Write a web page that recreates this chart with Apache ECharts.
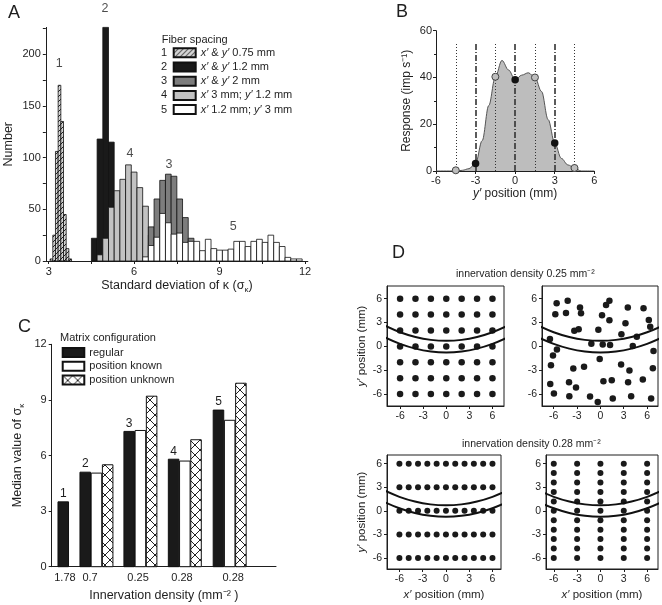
<!DOCTYPE html>
<html>
<head>
<meta charset="utf-8">
<script src="https://cdn.jsdelivr.net/npm/echarts@6/dist/echarts.min.js"></script>
<style>
html, body { margin: 0; padding: 0; background: #fff; }
#main { width: 662px; height: 605px; }
</style>
</head>
<body>
<div id="main"></div>
<script>
// ---- A: histograms of sigma_kappa (bin edges + counts) ----
var binW = 0.2;
var h1Start = 3.05, h1W = 0.094;
var h1Counts = [2, 25, 106, 170, 135, 45, 12, 2];
var h2Start = 4.5;
var h2Counts = [22, 118, 226, 115];
var h4Start = 4.7;
var h4Counts = [6, 22, 52, 68, 79, 93, 86, 71, 53, 25];
var h3Start = 6.5;
var h3Counts = [33, 60, 78, 84, 82, 60, 42, 22];
var h5Start = 6.3;
var h5Counts = [4, 15, 23, 46, 37, 26, 27, 18, 19, 19, 10, 21, 12, 10.5, 10.5, 11.5, 19, 19, 14, 19, 21, 18, 25, 18, 14, 3.5, 2, 2];
var fiberNames = ['x′ & y′ 0.75 mm', 'x′ & y′ 1.2 mm', 'x′ & y′ 2 mm', 'x′ 3 mm; y′ 1.2 mm', 'x′ 1.2 mm; y′ 3 mm'];
var aNotes = [[3.37, 191, '1'], [4.98, 244, '2'], [7.22, 93, '3'], [5.85, 104, '4'], [9.48, 33, '5']];

// ---- B: response profile ----
var bX = [-6, -4.5, -4, -3.5, -3, -2.5, -2, -1.5, -1, -0.5, 0, 0.5, 1, 1.5, 2, 2.5, 3, 3.5, 4, 4.5, 5, 6];
var bY = [0, 0, 0.3, 1, 3.2, 13, 28, 40.3, 47.3, 43.2, 39, 41, 42, 40, 34, 22, 12, 5.4, 2.6, 1.3, 0, 0];
var bFilled = [[-3, 3.2], [0, 39], [3, 12]];
var bOpen = [[-4.5, 0.3], [-1.5, 40.3], [1.5, 40], [4.5, 1.3]];
var bDotted = [-4.5, -1.5, 1.5, 4.5];
var bDashDot = [-3, 0, 3];
var bLineTop = 54.5;

// ---- C: median sigma_kappa ----
var cDensity = ['1.78', '0.7', '0.25', '0.28', '0.28'];
var cLabelPos = [0.59, 1.71, 3.85, 5.81, 8.09];
var cGroupStart = [0.28, 1.26, 3.22, 5.2, 7.2];
var cRegular = [3.5, 5.1, 7.3, 5.8, 8.45];
var cKnown = [null, 5.05, 7.35, 5.7, 7.9];
var cUnknown = [null, 5.5, 9.2, 6.85, 9.9];
var cNumbers = ['1', '2', '3', '4', '5'];
var cBarW = 0.47, cBarStep = 0.5;

// ---- D: fiber positions ----
var d1Cols = [-6, -4, -2, 0, 2, 4, 6];
var d1Rows = [-6, -4, -2, 0, 2, 4, 6];
var d2Points = [[-5.62, 5.43], [-4.2, 5.73], [-2.62, 4.88], [-5.79, 4.04], [-4.42, 4.21], [-2.49, 4.17],
  [0.73, 5.22], [1.16, 5.73], [3.52, 4.88], [5.54, 4.8], [0.21, 3.92], [1.16, 3.28], [3.22, 2.9],
  [6.22, 3.33], [6.4, 2.48], [-3.35, 1.98], [-2.79, 2.15], [-0.26, 2.1], [2.7, 1.52], [4.68, 1.22],
  [-6.48, 0.93], [-1.16, 0.34], [0.3, 0.25], [1.24, 0.17], [4.16, 0.04], [-5.58, -0.38], [6.82, -0.59],
  [-6.09, -1.14], [-0.09, -1.6], [-6.35, -2.36], [-3.48, -2.78], [-2.1, -2.57], [2.66, -2.27],
  [3.73, -3.03], [6.74, -2.74], [-6.44, -4.72], [-4.03, -4.5], [0.39, -4.38], [1.46, -4.25],
  [3.56, -4.5], [5.45, -4.17], [-3.13, -5.18], [-5.97, -5.94], [-3.99, -6.27], [-1.33, -6.32],
  [-0.34, -6.99], [1.59, -6.57], [3.95, -6.27], [6.52, -6.57]];
var d3Cols = [-6, -4.8, -3.6, -2.4, -1.2, 0, 1.2, 2.4, 3.6, 4.8, 6];
var d3Rows = [-6, -3, 0, 3, 6];
var d4Cols = [-6, -3, 0, 3, 6];
var d4Rows = [-6, -4.8, -3.6, -2.4, -1.2, 0, 1.2, 2.4, 3.6, 4.8, 6];
var curveX = [-8, -6, -4, -2, 0, 2, 4, 6, 8];
var curveUpper = [2.62, 1.78, 1.18, 0.82, 0.7, 0.82, 1.18, 1.78, 2.62];
var curveLower = [1.15, 0.32, -0.28, -0.64, -0.76, -0.64, -0.28, 0.32, 1.15];
var dTicks = [-6, -3, 0, 3, 6];

var FONT = 'Liberation Sans';
var INK = '#1e1e1e';

function makePattern(size, bg, lines) {
  var c = document.createElement('canvas');
  c.width = size; c.height = size;
  var g = c.getContext('2d');
  g.fillStyle = bg; g.fillRect(0, 0, size, size);
  g.strokeStyle = '#222'; g.lineWidth = 1;
  g.beginPath();
  lines.forEach(function (l) { g.moveTo(l[0], l[1]); g.lineTo(l[2], l[3]); });
  g.stroke();
  return { image: c, repeat: 'repeat' };
}
var diagFill = makePattern(5, '#d4d4d4', [[0, 5, 5, 0], [-1, 1, 1, -1], [4, 6, 6, 4]]);
var crossFill = makePattern(10, '#ffffff', [[0, 0, 10, 10], [10, 0, 0, 10]]);

function histSeries(name, start, width, counts, fill, z) {
  return {
    name: name, type: 'custom', xAxisIndex: 0, yAxisIndex: 0, z: z,
    itemStyle: { color: fill, borderColor: '#111', borderWidth: 1 },
    encode: { x: [0, 1], y: 2 },
    data: counts.map(function (c, i) { return [start + i * width, start + (i + 1) * width, c]; }),
    renderItem: function (params, api) {
      var a = api.coord([api.value(0), api.value(2)]);
      var b = api.coord([api.value(1), 0]);
      return { type: 'rect', shape: { x: a[0], y: a[1], width: b[0] - a[0], height: b[1] - a[1] },
        style: { fill: fill, stroke: '#111', lineWidth: 0.8 } };
    }
  };
}

function cSeries(name, values, slot, fill) {
  return {
    name: name, type: 'custom', xAxisIndex: 2, yAxisIndex: 2,
    itemStyle: { color: fill, borderColor: '#111', borderWidth: 1 },
    encode: { x: 0, y: 1 },
    data: values.map(function (v, i) { return [cGroupStart[i] + slot * cBarStep, v == null ? '-' : v, i]; }),
    renderItem: function (params, api) {
      var v = api.value(1);
      if (v == null || isNaN(v)) return;
      var x0 = api.value(0);
      var a = api.coord([x0, v]);
      var b = api.coord([x0 + cBarW, 0]);
      var rect = { type: 'rect', shape: { x: a[0], y: a[1], width: b[0] - a[0], height: b[1] - a[1] },
        style: { fill: fill, stroke: '#111', lineWidth: 1 } };
      if (slot !== 0) return rect;
      return { type: 'group', children: [rect, {
        type: 'text', x: (a[0] + b[0]) / 2, y: a[1] - 2,
        style: { text: cNumbers[api.value(2)], align: 'center', verticalAlign: 'bottom',
          font: '12px "' + FONT + '"', fill: INK }
      }] };
    }
  };
}

function gridDots(cols, rows) {
  var out = [];
  rows.forEach(function (y) { cols.forEach(function (x) { out.push([x, y]); }); });
  return out;
}

function curvePts(ys) { return curveX.map(function (x, i) { return [x, ys[i]]; }); }

var tickLbl = { fontSize: 11, color: INK, fontFamily: FONT };
var axLine = { onZero: false, lineStyle: { color: INK, width: 1 } };

function dAxes(idx, xr, yr, xName, yName) {
  var x = {
    gridIndex: idx, type: 'value', min: xr[0], max: xr[1],
    axisLine: axLine, splitLine: { show: false },
    axisTick: { customValues: dTicks, length: 3, lineStyle: { color: INK } },
    axisLabel: { customValues: dTicks, fontSize: 10.5, color: INK, margin: 5 },
    name: xName, nameLocation: 'middle', nameGap: 20,
    nameTextStyle: { fontSize: 11.5, color: INK, rich: { i: { fontStyle: 'italic', fontSize: 11.5 } } }
  };
  var y = {
    gridIndex: idx, type: 'value', min: yr[0], max: yr[1],
    axisLine: axLine, splitLine: { show: false },
    axisTick: { customValues: dTicks, length: 3, lineStyle: { color: INK } },
    axisLabel: { customValues: dTicks, fontSize: 10.5, color: INK, margin: 5 },
    name: yName, nameLocation: 'middle', nameGap: 19,
    nameTextStyle: { fontSize: 11.5, color: INK, rich: { i: { fontStyle: 'italic', fontSize: 11.5 } } }
  };
  return [x, y];
}

var dAx = [
  dAxes(3, [-7.7, 7.5], [-7.5, 7.6], '', '{i|y′} position (mm)'),
  dAxes(4, [-7.5, 7.4], [-7.5, 7.6], '', ''),
  dAxes(5, [-7.6, 7.1], [-7.4, 7.1], '{i|x′} position (mm)', '{i|y′} position (mm)'),
  dAxes(6, [-7.0, 7.4], [-7.4, 7.1], '{i|x′} position (mm)', '')
];

function dSeries(idx, pts, size) {
  return [
    { type: 'scatter', xAxisIndex: idx, yAxisIndex: idx, data: pts, symbolSize: size,
      itemStyle: { color: '#1a1a1a', opacity: 1 }, silent: true },
    { type: 'line', xAxisIndex: idx, yAxisIndex: idx, data: curvePts(curveUpper), smooth: 0.4,
      showSymbol: false, lineStyle: { color: '#111', width: 2 }, silent: true },
    { type: 'line', xAxisIndex: idx, yAxisIndex: idx, data: curvePts(curveLower), smooth: 0.4,
      showSymbol: false, lineStyle: { color: '#111', width: 2 }, silent: true }
  ];
}

var italicRich = { i: { fontStyle: 'italic', fontSize: 11, lineHeight: 11, fontFamily: FONT },
                   n: { fontSize: 11, lineHeight: 11, fontFamily: FONT } };

var bMarks = bDotted.map(function (x) {
  return [{ coord: [x, 0], lineStyle: { type: [1, 2], width: 1, color: '#333' } }, { coord: [x, bLineTop] }];
}).concat(bDashDot.map(function (x) {
  return [{ coord: [x, 0], lineStyle: { type: [6, 2, 1, 2], width: 1.6, color: '#333' } }, { coord: [x, bLineTop] }];
}));

var option = {
  animation: false,
  backgroundColor: '#fff',
  textStyle: { fontFamily: FONT, color: INK },
  grid: [
    { left: 45.85, top: 27.4, width: 262, height: 233.6 },
    { left: 436, top: 30.7, width: 158.3, height: 140.3 },
    { left: 51.7, top: 344.3, width: 224.3, height: 222.4 },
    { left: 387, top: 286, width: 117, height: 120, show: true, borderColor: INK, borderWidth: 1, backgroundColor: 'transparent' },
    { left: 542, top: 286, width: 116, height: 120, show: true, borderColor: INK, borderWidth: 1, backgroundColor: 'transparent' },
    { left: 387, top: 455, width: 114, height: 114, show: true, borderColor: INK, borderWidth: 1, backgroundColor: 'transparent' },
    { left: 546, top: 455, width: 112, height: 114, show: true, borderColor: INK, borderWidth: 1, backgroundColor: 'transparent' }
  ],
  xAxis: [
    { gridIndex: 0, type: 'value', min: 2.9, max: 12.1, axisLine: axLine, splitLine: { show: false },
      axisTick: { customValues: [3, 4.5, 6, 7.5, 9, 10.5, 12], length: 3, lineStyle: { color: INK } },
      axisLabel: Object.assign({ customValues: [3, 6, 9, 12], margin: 5 }, tickLbl),
      name: 'Standard deviation of κ (σ{sub|κ})', nameLocation: 'middle', nameGap: 17,
      nameTextStyle: { fontSize: 12.5, color: INK, lineHeight: 16,
        rich: { sub: { fontSize: 8, lineHeight: 9, verticalAlign: 'bottom' } } } },
    { gridIndex: 1, type: 'value', min: -6, max: 6, interval: 3, axisLine: axLine, splitLine: { show: false },
      axisTick: { length: 3, lineStyle: { color: INK } },
      axisLabel: Object.assign({ margin: 4 }, tickLbl),
      name: '{i|y′} position (mm)', nameLocation: 'middle', nameGap: 17,
      nameTextStyle: { fontSize: 12, color: INK, rich: { i: { fontStyle: 'italic', fontSize: 12 } } } },
    { gridIndex: 2, type: 'value', min: 0, max: 10, axisLine: axLine, splitLine: { show: false },
      axisTick: { show: false },
      axisLabel: Object.assign({ customValues: cLabelPos, margin: 6,
        formatter: function (v) { var k = cLabelPos.indexOf(v); return k < 0 ? '' : cDensity[k]; } }, tickLbl),
      name: 'Innervation density (mm⁻² )', nameLocation: 'middle', nameGap: 22,
      nameTextStyle: { fontSize: 12.5, color: INK } },
    dAx[0][0], dAx[1][0], dAx[2][0], dAx[3][0]
  ],
  yAxis: [
    { gridIndex: 0, type: 'value', min: 0, max: 226, axisLine: axLine, splitLine: { show: false },
      axisTick: { customValues: [0, 25, 50, 75, 100, 125, 150, 175, 200, 225], length: 3, lineStyle: { color: INK } },
      axisLabel: Object.assign({ customValues: [0, 50, 100, 150, 200], margin: 5 }, tickLbl),
      name: 'Number', nameLocation: 'middle', nameGap: 31, nameTextStyle: { fontSize: 12.5, color: INK } },
    { gridIndex: 1, type: 'value', min: 0, max: 60, interval: 20, axisLine: axLine, splitLine: { show: false },
      axisTick: { length: 3, lineStyle: { color: INK } },
      minorTick: { show: true, splitNumber: 2, length: 2, lineStyle: { color: INK } },
      axisLabel: Object.assign({ margin: 4 }, tickLbl),
      name: 'Response (imp s⁻¹)', nameLocation: 'middle', nameGap: 23, nameTextStyle: { fontSize: 12, color: INK } },
    { gridIndex: 2, type: 'value', min: 0, max: 12, interval: 3, axisLine: axLine, splitLine: { show: false },
      axisTick: { length: 3, lineStyle: { color: INK } },
      axisLabel: Object.assign({ margin: 5 }, tickLbl),
      name: 'Median value of σ{sub|κ}', nameLocation: 'middle', nameGap: 26,
      nameTextStyle: { fontSize: 12.5, color: INK, lineHeight: 16,
        rich: { sub: { fontSize: 8, lineHeight: 9, verticalAlign: 'bottom' } } } },
    dAx[0][1], dAx[1][1], dAx[2][1], dAx[3][1]
  ],
  legend: [
    { left: 172.7, top: 47.3, padding: 0, orient: 'vertical', icon: 'rect', itemWidth: 22, itemHeight: 9, itemGap: 3.2,
      selectedMode: false, data: fiberNames,
      formatter: function (name) {
        return name.split(/([xy]′)/).filter(function (s) { return s; }).map(function (s) {
          return /^[xy]′$/.test(s) ? '{i|' + s + '}' : '{n|' + s + '}';
        }).join('');
      },
      textStyle: { fontSize: 11, color: INK, lineHeight: 11, rich: italicRich } },
    { left: 61.7, top: 347, padding: 0, orient: 'vertical', icon: 'rect', itemWidth: 21.6, itemHeight: 9, itemGap: 2.7,
      selectedMode: false, data: ['regular', 'position known', 'position unknown'],
      textStyle: { fontSize: 11, color: INK, lineHeight: 11 } }
  ],
  graphic: [
    { type: 'text', left: 8, top: 4, style: { text: 'A', font: '18px "' + FONT + '"', fill: INK } },
    { type: 'text', left: 396, top: 3, style: { text: 'B', font: '18px "' + FONT + '"', fill: INK } },
    { type: 'text', left: 18, top: 318, style: { text: 'C', font: '18px "' + FONT + '"', fill: INK } },
    { type: 'text', left: 392, top: 244, style: { text: 'D', font: '18px "' + FONT + '"', fill: INK } },
    { type: 'text', left: 161.7, top: 34, style: { text: 'Fiber spacing', font: '11px "' + FONT + '"', fill: INK } },
    { type: 'text', left: 60, top: 332, style: { text: 'Matrix configuration', font: '11px "' + FONT + '"', fill: INK } },
    { type: 'text', left: 456, top: 269, style: { text: 'innervation density 0.25 mm⁻²', font: '10.5px "' + FONT + '"', fill: INK } },
    { type: 'text', left: 462, top: 439, style: { text: 'innervation density 0.28 mm⁻²', font: '10.5px "' + FONT + '"', fill: INK } }
  ].concat(cNumbers.map(function (n, i) {
    return { type: 'text', left: 161, top: 47.3 + i * 14.2, style: { text: n, font: '11px "' + FONT + '"', fill: INK } };
  })),
  series: [
    histSeries(fiberNames[0], h1Start, h1W, h1Counts, diagFill, 2),
    histSeries(fiberNames[1], h2Start, binW, h2Counts, '#1a1a1a', 2),
    histSeries(fiberNames[3], h4Start, binW, h4Counts, '#c2c2c2', 3),
    histSeries(fiberNames[2], h3Start, binW, h3Counts, '#7d7d7d', 4),
    histSeries(fiberNames[4], h5Start, binW, h5Counts, '#ffffff', 5),
    { type: 'scatter', xAxisIndex: 0, yAxisIndex: 0, symbolSize: 0, clip: false, silent: true, z: 6,
      data: aNotes.map(function (n) { return { value: [n[0], n[1]], name: n[2] }; }),
      label: { show: true, position: 'inside', formatter: '{b}', fontSize: 12.5, color: INK } },

    { type: 'line', xAxisIndex: 1, yAxisIndex: 1, data: bX.map(function (x, i) { return [x, bY[i]]; }),
      smooth: 0.35, smoothMonotone: 'x', showSymbol: false, silent: true,
      lineStyle: { color: '#555', width: 1 }, areaStyle: { color: '#bdbdbd', opacity: 1 },
      markLine: { silent: true, symbol: ['none', 'none'], label: { show: false }, data: bMarks } },
    { type: 'scatter', xAxisIndex: 1, yAxisIndex: 1, data: bOpen, symbolSize: 7, silent: true, z: 5,
      itemStyle: { color: '#bdbdbd', borderColor: '#444', borderWidth: 1, opacity: 1 } },
    { type: 'scatter', xAxisIndex: 1, yAxisIndex: 1, data: bFilled, symbolSize: 7.5, silent: true, z: 5,
      itemStyle: { color: '#111', opacity: 1 } },

    cSeries('regular', cRegular, 0, '#1a1a1a'),
    cSeries('position known', cKnown, 1, '#ffffff'),
    cSeries('position unknown', cUnknown, 2, crossFill)
  ].concat(dSeries(3, gridDots(d1Cols, d1Rows), 6.5))
   .concat(dSeries(4, d2Points, 6.5))
   .concat(dSeries(5, gridDots(d3Cols, d3Rows), 6))
   .concat(dSeries(6, gridDots(d4Cols, d4Rows), 6))
};

var chart = echarts.init(document.getElementById('main'));
chart.setOption(option);
</script>
</body>
</html>
